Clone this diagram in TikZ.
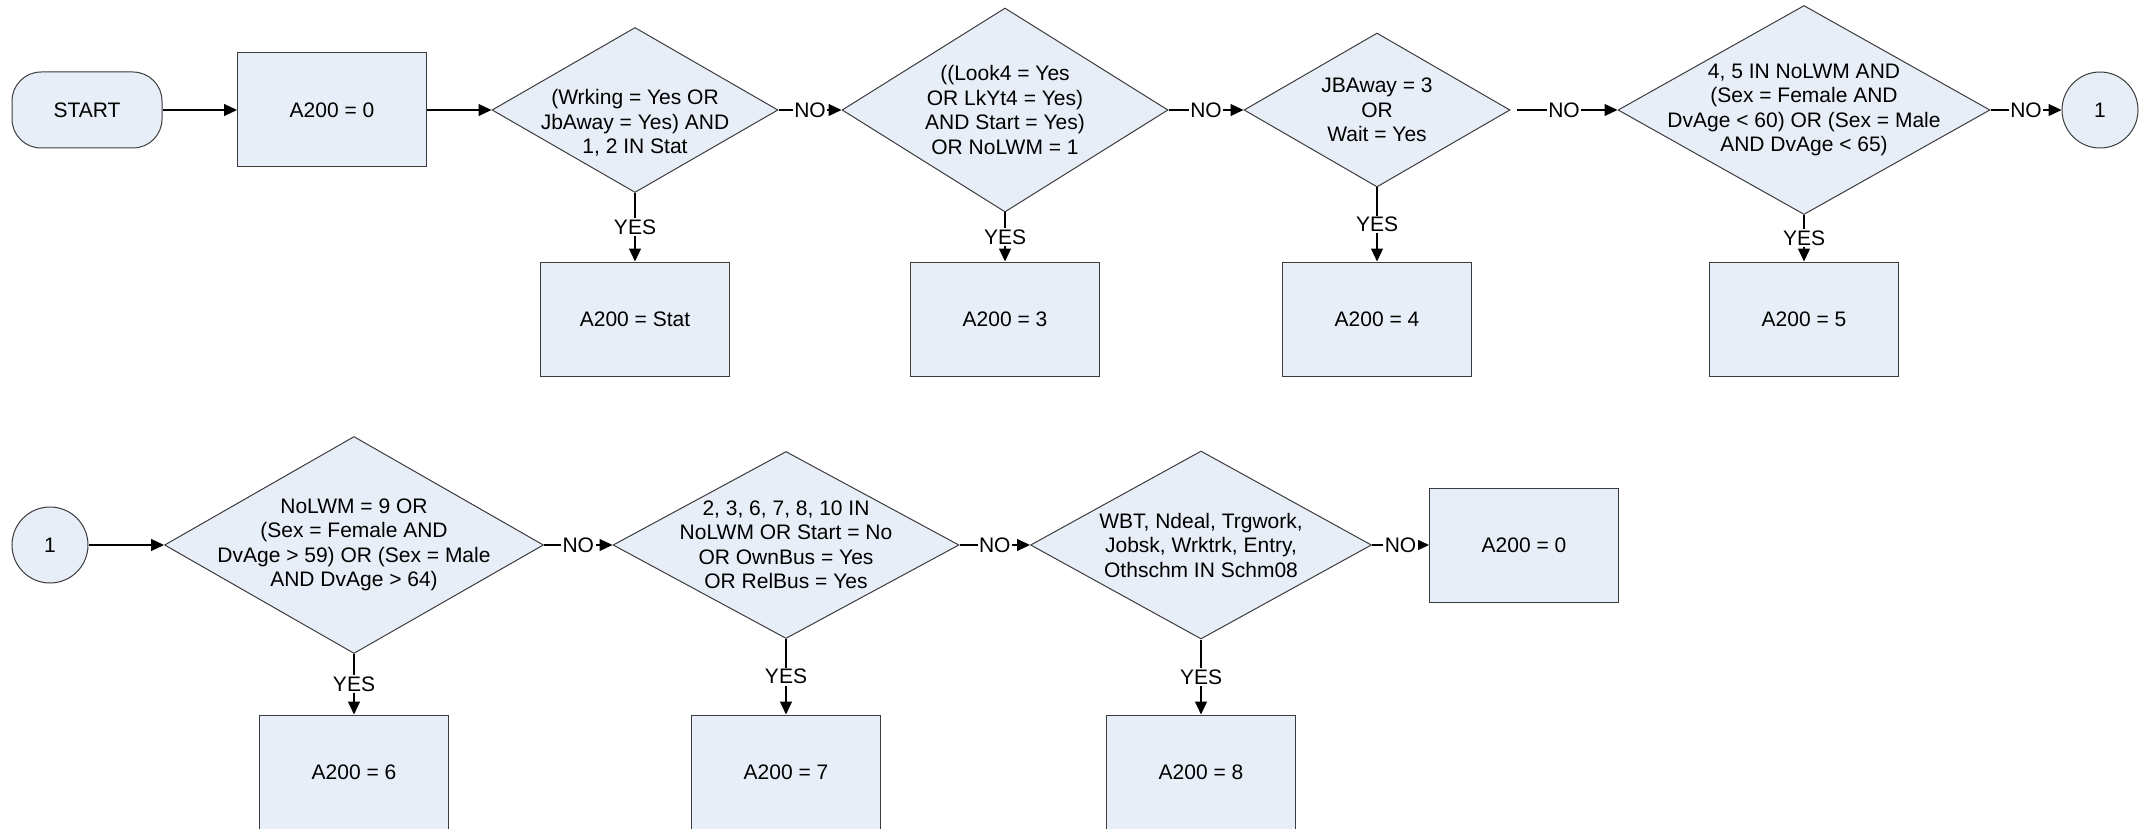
\documentclass[tikz,border=0pt]{standalone}
\usepackage{fontspec}
\setmainfont{Liberation Sans}
\usetikzlibrary{shapes.geometric,arrows.meta}

\definecolor{boxfill}{RGB}{232,238,247}
\definecolor{boxline}{RGB}{60,60,60}

\tikzset{every picture/.style={line width=1pt}}

\begin{document}
\begin{tikzpicture}[x=1pt,y=1pt,yscale=-1,xscale=1,
	font=\fontsize{21pt}{24.5pt}\selectfont,
	terminal/.style={draw=boxline,fill=boxfill,rounded corners=29pt,minimum width=150pt,minimum height=76pt,inner sep=0pt},
	process/.style={draw=boxline,fill=boxfill,minimum width=189pt,minimum height=114pt,inner sep=0pt},
	decision/.style={diamond,draw=boxline,fill=boxfill,inner sep=0pt},
	connector/.style={circle,draw=boxline,fill=boxfill,minimum size=76pt,inner sep=0pt},
	dtext/.style={align=center,inner sep=0pt},
	flow/.style={draw=black,line width=1.2pt,-{Triangle[length=13pt,width=12pt]}},
	lbl/.style={fill=white,inner sep=1.5pt}]
	\useasboundingbox (0,0) rectangle (2139,829);

	%Row 1
	\node[terminal] (start) at (87,110) {START};
	\node[process] (a0) at (332,110) {A200 = 0};
	\node[decision,minimum width=286pt,minimum height=165pt] (wrk) at (635,110) {};
	\node[dtext] (wrktxt) at (635,123) {(Wrking = Yes OR\\JbAway = Yes) AND\\1, 2 IN Stat};
	\node[decision,minimum width=326pt,minimum height=204pt] (look) at (1005,110) {};
	\node[dtext] (looktxt) at (look) {((Look4 = Yes\\OR LkYt4 = Yes)\\AND Start = Yes)\\OR NoLWM = 1};
	\node[decision,minimum width=266pt,minimum height=154pt] (jba) at (1377,110) {};
	\node[dtext] (jbatxt) at (jba) {JBAway = 3\\OR\\Wait = Yes};
	\node[decision,minimum width=372pt,minimum height=209pt] (lwmlt) at (1804,110) {};
	\node[dtext] (lwmlttxt) at (lwmlt) {4, 5 IN NoLWM AND\\(Sex = Female AND\\DvAge < 60) OR (Sex = Male\\AND DvAge < 65)};
	\node[connector] (cout) at (2100,110) {1};

	\node[process] (astat) at (635,319) {A200 = Stat};
	\node[process] (a3) at (1005,319) {A200 = 3};
	\node[process] (a4) at (1377,319) {A200 = 4};
	\node[process] (a5) at (1804,319) {A200 = 5};

	%Row 2
	\node[connector] (cin) at (50,545) {1};
	\node[decision,minimum width=379pt,minimum height=217pt] (lwmgt) at (354,545) {};
	\node[dtext] (lwmgttxt) at (lwmgt) {NoLWM = 9 OR\\(Sex = Female AND\\DvAge > 59) OR (Sex = Male\\AND DvAge > 64)};
	\node[decision,minimum width=346pt,minimum height=187pt] (bus) at (786,545) {};
	\node[dtext] (bustxt) at (bus) {2, 3, 6, 7, 8, 10 IN\\NoLWM OR Start = No\\OR OwnBus = Yes\\OR RelBus = Yes};
	\node[decision,minimum width=341pt,minimum height=188pt] (schm) at (1201,545) {};
	\node[dtext] (schmtxt) at (schm) {WBT, Ndeal, Trgwork,\\Jobsk, Wrktrk, Entry,\\Othschm IN Schm08};
	\node[process] (aend) at (1524,545) {A200 = 0};

	\node[process] (a6) at (354,772) {A200 = 6};
	\node[process] (a7) at (786,772) {A200 = 7};
	\node[process] (a8) at (1201,772) {A200 = 8};

	%Connectors
	\draw[flow] (start) -- (a0);
	\draw[flow] (a0) -- (wrk.west);
	\draw[flow] (wrk.east) -- node[lbl] {NO} (look.west);
	\draw[flow] (look.east) -- node[lbl] {NO} (jba.west);
	\draw[flow,shorten <=6pt] (jba.east) -- node[lbl] {NO} (lwmlt.west);
	\draw[flow] (lwmlt.east) -- node[lbl] {NO} (cout);
	\draw[flow] (wrk.south) -- node[lbl] {YES} (astat);
	\draw[flow] (look.south) -- node[lbl] {YES} (a3);
	\draw[flow] (jba.south) -- node[lbl] {YES} (a4);
	\draw[flow] (lwmlt.south) -- node[lbl] {YES} (a5);

	\draw[flow] (cin) -- (lwmgt.west);
	\draw[flow] (lwmgt.east) -- node[lbl] {NO} (bus.west);
	\draw[flow] (bus.east) -- node[lbl] {NO} (schm.west);
	\draw[flow] (schm.east) -- node[lbl] {NO} (aend);
	\draw[flow] (lwmgt.south) -- node[lbl] {YES} (a6);
	\draw[flow] (bus.south) -- node[lbl] {YES} (a7);
	\draw[flow] (schm.south) -- node[lbl] {YES} (a8);

\end{tikzpicture}
\end{document}
